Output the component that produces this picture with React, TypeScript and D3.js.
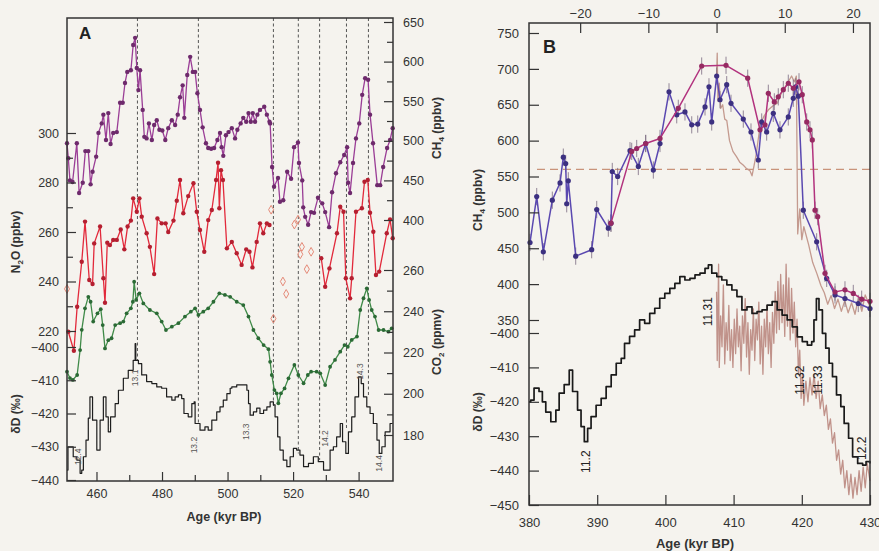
import { useEffect, useRef } from "react";
import * as d3 from "d3";

type P = [number, number];

// ---- Panel A (age kyr BP, value) ----
const ch4A: P[] = [
  [451.0, 497], [451.4, 478], [451.9, 450], [452.7, 448], [454.0, 497], [454.7, 434], [455.8, 447], [456.6, 487],
  [457.5, 487], [458.2, 445], [458.8, 461], [459.9, 480], [460.6, 510], [461.6, 522], [462.1, 533], [462.9, 501],
  [463.6, 535], [464.3, 496], [465.1, 510], [466.2, 511], [467.2, 548], [468.0, 548], [468.7, 573], [469.4, 587],
  [470.5, 589], [471.2, 621], [471.8, 630], [472.3, 592], [472.8, 564], [473.3, 589], [474.1, 539], [474.6, 505],
  [475.3, 503], [476.0, 522], [476.9, 501], [477.6, 520], [478.4, 526], [479.2, 514], [480.1, 513], [481.0, 501],
  [481.9, 516], [483.0, 526], [484.0, 520], [484.8, 533], [485.5, 555], [486.3, 570], [486.8, 529], [487.7, 583],
  [488.6, 606], [489.4, 587], [490.1, 587], [490.8, 560], [491.6, 539], [492.4, 517], [493.4, 497], [494.1, 491],
  [495.0, 490], [495.9, 491], [496.9, 501], [497.7, 510], [498.2, 492], [498.7, 481], [499.5, 507], [500.3, 511],
  [501.3, 516], [502.3, 503], [503.0, 514], [504.0, 522], [504.8, 529], [505.7, 524], [506.4, 535], [507.1, 524],
  [507.7, 535], [508.4, 524], [509.1, 533], [509.9, 539], [511.2, 543], [512.0, 533], [512.8, 524], [513.0, 522],
  [513.6, 467], [514.2, 442], [515.4, 453], [516.0, 423], [517.0, 425], [518.2, 461], [519.4, 452], [520.3, 492],
  [521.5, 498], [521.8, 472], [522.8, 450], [523.1, 416], [523.7, 404], [524.6, 394], [525.5, 410], [526.4, 409],
  [527.6, 428], [528.9, 421], [529.8, 410], [531.0, 391], [531.9, 435], [533.1, 459], [534.4, 473], [535.6, 482],
  [536.5, 492], [536.8, 447], [537.4, 434], [538.3, 472], [539.2, 503], [540.2, 522], [541.1, 558], [542.0, 579],
  [542.9, 577], [543.5, 533], [544.4, 497], [545.7, 444], [546.6, 444], [547.5, 467], [548.7, 491], [549.6, 501],
  [550.4, 516],
];

const n2oA: P[] = [
  [451.4, 219.7], [453.1, 212], [454.1, 229.8], [455.5, 248], [456.5, 264.2], [457.8, 240.6], [458.8, 239],
  [459.3, 255.4], [461.1, 262.2], [462.1, 241.3], [462.6, 231.4], [463.3, 255.7], [464.1, 254.7], [465.1, 256.8],
  [466.2, 256.8], [467.4, 261], [468.5, 253], [469.5, 262.2], [470.5, 264.6], [471.2, 273.6], [472.3, 268.2],
  [473.1, 273.6], [473.8, 266.2], [475.3, 259.5], [476.3, 254], [477.6, 243], [478.6, 265.5], [479.9, 263.5],
  [481.1, 263.5], [481.9, 260], [483.5, 264.6], [484.5, 272.6], [485.5, 281], [486.5, 267.6], [488.0, 274.5],
  [489.6, 279.7], [490.6, 268.2], [491.6, 260.8], [492.9, 252], [494.1, 264.8], [495.2, 268.9], [496.5, 281],
  [497.1, 288], [497.5, 269.6], [498.0, 285], [498.6, 281], [499.8, 253.4], [501.3, 256], [502.8, 251.4],
  [504.3, 246.7], [505.7, 253], [506.7, 252], [507.6, 245.7], [508.9, 256], [509.9, 263.5], [510.9, 259.5],
  [512.0, 263.5], [512.8, 262.8],
];
const n2oB: P[] = [
  [528.6, 249.4], [529.8, 237.9], [531.1, 245.3], [533.4, 259.5], [534.4, 270.2], [535.4, 268.2], [536.1, 241.3],
  [537.4, 233.2], [537.9, 241.3], [539.2, 268.2], [541.0, 269.6], [541.8, 280.3], [542.8, 281], [543.5, 267.8],
  [544.5, 260.1], [545.3, 242.6], [546.3, 244], [548.6, 259.5], [549.6, 265.1], [550.4, 257.5],
];
const n2oOpen: P[] = [
  [451.0, 237], [513.3, 269], [514.0, 225], [516.9, 240], [517.9, 235], [520.4, 263], [521.5, 265],
  [522.2, 251], [522.7, 254], [524.2, 245], [525.5, 252],
];

const co2A: P[] = [
  [451.0, 210.7], [451.9, 207.6], [452.8, 206.7], [454.1, 209.1], [455.0, 221.2], [455.5, 231], [456.5, 241.4],
  [457.5, 247], [458.2, 244.6], [459.0, 235], [460.3, 239], [461.3, 241], [461.9, 233.3], [462.6, 222], [463.6, 226],
  [464.6, 226.9], [465.7, 233.3], [467.2, 234.2], [468.2, 235], [469.2, 239], [470.5, 241.4], [471.1, 244.6],
  [471.5, 254.3], [472.1, 245.5], [473.1, 248.7], [474.3, 243.8], [476.3, 240.6], [478.4, 239], [479.9, 235],
  [481.2, 230.9], [483.0, 232.5], [485.0, 234.2], [487.0, 237.4], [488.8, 239.8], [490.1, 241.4], [491.1, 238.2],
  [492.6, 239.8], [494.1, 241.4], [495.7, 244.6], [497.5, 248.7], [499.2, 247.9], [500.8, 247], [502.8, 244.6],
  [504.8, 243], [506.4, 237.4], [507.9, 230.9], [509.4, 226.9], [511.0, 223.6], [512.5, 221.6], [513.0, 215.5],
  [513.5, 209.1], [514.3, 201.8], [515.0, 200.2], [515.5, 195.4], [516.3, 200.2], [517.4, 202.6], [518.6, 207.5],
  [520.4, 214], [521.6, 209.1], [523.2, 205.1], [524.5, 209.1], [525.5, 210.7], [527.2, 210.7], [528.3, 209.9],
  [529.8, 204.2], [531.3, 213.1], [532.8, 216.4], [534.4, 220.4], [535.7, 223.6], [536.7, 222.8], [537.9, 226.1],
  [539.5, 227.7], [540.5, 240.6], [541.5, 246.3], [542.5, 251.1], [543.2, 245.5], [544.0, 240.6], [545.0, 237.4],
  [546.1, 230.9], [547.6, 230.9], [549.1, 230.1], [550.1, 231.7],
];

const dDA: P[] = [
  [451.0, -437], [451.3, -430], [452.4, -430], [452.9, -433], [454.0, -434], [455.0, -438], [455.5, -437],
  [456.0, -433], [456.8, -428], [457.5, -421.4], [458.0, -415], [458.8, -422], [460.1, -431], [461.1, -422],
  [462.1, -415], [462.9, -421], [463.6, -425.5], [464.3, -421], [465.7, -417], [466.7, -413], [468.2, -409.4],
  [469.7, -407], [471.2, -404], [471.8, -399], [472.0, -404], [472.8, -405], [473.8, -408.4], [475.3, -410.4],
  [476.9, -411], [478.4, -412], [479.9, -412.4], [481.4, -415], [483.0, -416], [484.0, -415], [485.0, -414.4],
  [486.0, -415.5], [486.7, -420], [488.0, -421], [489.1, -417], [489.8, -416.5], [490.1, -423], [491.6, -425],
  [493.1, -424], [494.1, -425], [495.2, -422], [496.7, -419.5], [497.7, -418], [498.7, -416], [499.8, -414],
  [500.8, -412.4], [501.3, -412], [502.8, -411.4], [504.8, -411.4], [505.9, -413], [506.4, -417], [506.9, -420.5],
  [507.9, -419.5], [508.9, -418.4], [509.9, -420], [511.0, -419], [512.0, -418], [513.0, -416.5], [514.0, -417.4],
  [514.5, -421], [515.3, -427], [516.0, -431], [517.0, -434], [518.1, -436], [519.1, -433], [520.1, -430.5],
  [521.1, -431], [522.1, -432.5], [523.2, -436], [524.7, -435], [526.2, -433], [527.7, -434.5], [529.3, -437],
  [530.3, -437], [531.3, -431], [532.3, -430], [533.3, -427], [534.4, -423], [535.1, -428.5], [536.1, -432],
  [536.9, -425.5], [537.9, -421], [538.9, -415], [540.0, -409], [540.8, -411], [541.5, -415], [542.5, -418],
  [543.5, -420], [544.5, -423], [545.6, -428], [546.3, -432], [547.1, -430], [548.1, -425.5], [549.6, -423],
  [550.4, -423],
];

const stageAgesA = [472.5, 491.1, 514.0, 521.6, 528.1, 536.3, 543.0];
const stageEndsA = [-404, -423, -418, -432, -434, -425, -415];
const stageLabelsA: [string, number, number][] = [
  ["12.4", 454.5, -433], ["13.1", 471.8, -409.3], ["13.2", 489.9, -429.5], ["13.3", 505.6, -425.5],
  ["14.2", 529.6, -427.5], ["14.3", 540.5, -407.4], ["14.4", 546.1, -435],
];

// ---- Panel B ----
const ch4Edc: P[] = [
  [380.15, 458], [381.13, 522], [382.1, 445], [383.42, 517], [384.55, 541], [385.03, 577], [385.38, 568],
  [385.53, 512], [385.76, 544], [386.85, 439], [389.19, 448], [389.93, 504], [391.63, 478], [392.02, 485],
  [392.21, 557], [393.0, 550], [394.81, 586], [396.03, 564], [397.11, 596], [398.23, 559], [399.21, 596],
  [400.53, 668], [401.66, 636], [402.87, 640], [403.86, 622], [404.74, 623], [405.81, 647], [406.39, 675],
  [406.79, 626], [407.52, 690], [408.01, 657], [408.99, 678], [409.62, 652], [411.42, 630], [412.55, 612],
  [413.62, 573], [414.12, 626], [414.85, 612], [415.82, 638], [416.8, 615], [418.02, 633], [418.75, 659],
  [419.11, 675], [419.49, 662], [420.22, 503], [422.18, 459], [423.65, 408], [424.87, 385], [426.33, 380],
  [428.28, 373], [430, 366],
];
const ch4Second: P[] = [
  [392.02, 485], [395.06, 585], [395.79, 589], [397.11, 596], [399.21, 603], [401.89, 645], [405.32, 704],
  [408.89, 705], [412.07, 687], [413.87, 615], [414.6, 622], [415.09, 666], [415.97, 654], [416.55, 661],
  [417.29, 671], [418.02, 680], [418.75, 673], [419.59, 682], [420.07, 664], [420.72, 626], [421.2, 615],
  [421.54, 601], [421.94, 503], [422.33, 494], [423.4, 415], [424.87, 389], [426.33, 392], [427.55, 387],
  [428.78, 379], [430, 376],
];
const ch4Vostok: P[] = [
  [407.5, 690], [407.6, 722], [407.7, 655], [407.9, 680], [408.1, 645], [408.4, 650], [408.7, 630], [409.0, 628],
  [409.4, 600], [409.9, 585], [410.4, 578], [410.9, 570], [411.4, 566], [411.9, 561], [412.4, 558], [412.7, 551],
  [413.0, 565], [413.3, 580], [413.9, 622], [414.5, 635], [415.1, 643], [415.7, 648], [416.4, 652], [417.1, 668],
  [417.9, 680], [418.5, 690], [418.9, 682], [419.2, 690], [419.4, 470], [419.7, 505], [420.0, 462], [420.3, 480],
  [421.0, 455], [421.6, 430], [422.2, 415], [422.8, 398], [423.3, 388], [423.8, 372], [424.3, 384], [424.8, 366],
  [425.3, 379], [425.8, 362], [426.3, 377], [426.8, 360], [427.3, 374], [427.8, 358], [428.3, 380], [428.8, 362],
  [429.3, 385], [430, 368],
];
const dDB: P[] = [
  [380, -420], [380.25, -419.5], [380.74, -416], [381.47, -417], [381.96, -420], [382.46, -423], [383.2, -425.8],
  [383.94, -422.4], [384.42, -417.5], [385.16, -415], [385.9, -410.8], [386.39, -417], [387.12, -422.4],
  [387.63, -427.2], [388.11, -431.6], [388.6, -427.7], [389.1, -424.3], [389.84, -421], [390.58, -419],
  [391.31, -415.6], [392.05, -412.2], [392.79, -408.8], [393.52, -407.4], [394.01, -403], [394.75, -401],
  [395.49, -399.1], [396.22, -396.2], [396.96, -397.2], [397.7, -394.3], [398.44, -392.8], [399.17, -389.9],
  [399.91, -388.5], [400.65, -387], [401.39, -385.6], [402.12, -383.6], [402.86, -384.6], [403.6, -384.1],
  [404.34, -383.1], [405.07, -382.6], [405.81, -381.2], [406.3, -380.2], [406.8, -382.6], [407.54, -383.6],
  [408.27, -384.6], [409.01, -386], [409.75, -387.5], [410.49, -389.4], [411.22, -393.3], [411.96, -392.4],
  [412.7, -394.3], [413.44, -393.8], [414.17, -393.3], [414.91, -391.9], [415.65, -390.9], [416.39, -393.3],
  [417.12, -394.8], [417.86, -396.2], [418.6, -398.2], [419.34, -401.1], [420.07, -402.5], [420.81, -403.5],
  [421.45, -402.5], [421.78, -396.2], [422.14, -390], [422.52, -393.3], [423.02, -400.1], [423.51, -404.4],
  [424.0, -408.8], [424.5, -412.7], [425.09, -418], [425.72, -421.4], [426.21, -426.3], [426.86, -430.6],
  [427.45, -436], [428.19, -437.9], [428.92, -438.4], [429.42, -437.4], [430, -437.9],
];
const dDVostok: P[] = [
  [407.5, -388], [407.6, -408], [407.8, -380], [407.9, -410], [408.1, -395], [408.3, -404], [408.5, -386],
  [408.7, -409], [408.9, -397], [409.1, -405], [409.3, -392], [409.5, -408], [409.7, -399], [409.9, -410],
  [410.1, -396], [410.3, -406], [410.5, -393], [410.7, -404], [410.9, -398], [411.1, -411], [411.3, -395],
  [411.5, -403], [411.7, -390], [411.9, -407], [412.1, -397], [412.3, -412], [412.5, -399], [412.7, -405],
  [412.9, -393], [413.1, -408], [413.3, -396], [413.5, -402], [413.7, -391], [413.9, -409], [414.1, -398],
  [414.3, -412], [414.5, -396], [414.7, -404], [414.9, -392], [415.1, -406], [415.3, -397], [415.5, -410],
  [415.7, -394], [415.9, -403], [416.1, -388], [416.3, -400], [416.5, -385], [416.7, -399], [416.9, -383],
  [417.1, -397], [417.3, -386], [417.5, -401], [417.7, -380], [417.9, -398], [418.1, -384], [418.3, -402],
  [418.5, -387], [418.7, -400], [418.9, -391], [419.1, -404], [419.3, -396], [419.5, -412], [419.7, -405],
  [419.9, -419], [420.1, -412], [420.3, -421], [420.6, -414], [420.9, -420], [421.2, -413], [421.5, -418],
  [421.8, -412], [422.1, -419], [422.4, -414], [422.7, -422], [423.0, -418], [423.3, -424], [423.6, -421],
  [423.9, -428], [424.2, -425], [424.5, -432], [424.8, -429], [425.1, -437], [425.4, -434], [425.7, -441],
  [426.0, -437], [426.3, -445], [426.6, -440], [426.9, -447], [427.2, -441], [427.5, -448], [427.8, -442],
  [428.1, -447], [428.4, -440], [428.7, -446], [429.0, -439], [429.3, -445], [429.6, -438], [430.0, -443],
];
const stageLabelsB: [string, number, number][] = [
  ["11.2", 388.4, -437.4], ["11.31", 406.3, -393.8], ["11.32", 419.8, -413.7], ["11.33", 422.4, -413.7],
  ["12.2", 428.9, -433.5],
];
const ch4Threshold = 560;
const ch4Err = 12;
const topOffset = 407.5; // top axis = age - 407.5

const FONT = "'Liberation Sans', Arial, Helvetica, sans-serif";

export default function App() {
  const svgRef = useRef<SVGSVGElement>(null);

  useEffect(() => {
    document.body.style.margin = "0";
    if (!svgRef.current) return;
    const svg = d3.select(svgRef.current);
    svg.selectAll("*").remove();

    svg.append("rect").attr("width", 879).attr("height", 551).attr("fill", "#f5f3ee");

    const drawLine = (data: P[], x: any, y: any, color: string, w: number, curve: any = d3.curveLinear) => {
      svg.append("path")
        .datum(data)
        .attr("fill", "none")
        .attr("stroke", color)
        .attr("stroke-width", w)
        .attr("stroke-linejoin", "round")
        .attr("d", d3.line<P>().x(d => x(d[0])).y(d => y(d[1])).curve(curve));
    };
    const drawDots = (data: P[], x: any, y: any, color: string, r: number) => {
      svg.append("g").selectAll("circle")
        .data(data)
        .enter()
        .append("circle")
        .attr("cx", d => x(d[0]))
        .attr("cy", d => y(d[1]))
        .attr("r", r)
        .attr("fill", color);
    };
    const styleAxis = (g: any, size = 12.5) => {
      g.select(".domain").remove();
      g.selectAll("line").attr("stroke", "#333").attr("stroke-width", 1.2);
      g.selectAll("text").attr("font-size", size).attr("fill", "#333").attr("font-family", FONT);
    };
    const vLabel = (x: number, y: number, parts: [string, boolean][]) => {
      const t = svg.append("text")
        .attr("transform", `translate(${x},${y}) rotate(-90)`)
        .attr("text-anchor", "middle")
        .attr("font-family", FONT)
        .attr("font-weight", "bold")
        .attr("font-size", 12)
        .attr("fill", "#333");
      let shifted = false;
      parts.forEach(([s, sub]) => {
        const sp = t.append("tspan").text(s);
        if (sub) { sp.attr("font-size", 8).attr("dy", 3); shifted = true; }
        else if (shifted) { sp.attr("dy", -3); shifted = false; }
      });
    };

    // ================= PANEL A =================
    const xA = d3.scaleLinear().domain([451, 550.5]).range([67, 393]);
    const yN2O = d3.scaleLinear().domain([220, 300]).range([331, 133]);
    const yCH4A = d3.scaleLinear().domain([400, 650]).range([220, 22]);
    const yCO2 = d3.scaleLinear().domain([180, 260]).range([435, 270]);
    const yDA = d3.scaleLinear().domain([-440, -400]).range([480, 347]);

    // stage dashed lines
    stageAgesA.forEach((a, i) => {
      svg.append("line")
        .attr("x1", xA(a)).attr("x2", xA(a))
        .attr("y1", 18).attr("y2", yDA(stageEndsA[i]))
        .attr("stroke", "#444").attr("stroke-width", 0.9)
        .attr("stroke-dasharray", "3,2.5");
    });

    drawLine(ch4A, xA, yCH4A, "#9a3d96", 1.3);
    drawDots(ch4A, xA, yCH4A, "#6e2a6c", 2.2);
    drawLine(n2oA, xA, yN2O, "#e2293b", 1.3);
    drawLine(n2oB, xA, yN2O, "#e2293b", 1.3);
    drawDots(n2oA, xA, yN2O, "#b51f30", 2.2);
    drawDots(n2oB, xA, yN2O, "#b51f30", 2.2);
    svg.append("g").selectAll("path")
      .data(n2oOpen)
      .enter()
      .append("path")
      .attr("d", d3.symbol().type(d3.symbolDiamond).size(22))
      .attr("transform", d => `translate(${xA(d[0])},${yN2O(d[1])})`)
      .attr("fill", "none")
      .attr("stroke", "#e58a78")
      .attr("stroke-width", 1);
    drawLine(co2A, xA, yCO2, "#3f8a48", 1.3);
    drawDots(co2A, xA, yCO2, "#2b6a35", 1.9);
    drawLine(dDA, xA, yDA, "#1e1e1e", 1.2, d3.curveStepAfter);

    stageLabelsA.forEach(([s, a, v]) => {
      svg.append("text")
        .attr("transform", `translate(${xA(a) + 3},${yDA(v)}) rotate(-90)`)
        .attr("text-anchor", "middle")
        .attr("font-family", FONT)
        .attr("font-size", 8.5)
        .attr("fill", "#555")
        .text(s);
    });

    // axes A
    styleAxis(svg.append("g").attr("transform", "translate(67,0)")
      .call(d3.axisLeft(yN2O).tickValues([220, 240, 260, 280, 300]).tickSizeInner(-9).tickSizeOuter(0).tickPadding(8)));
    styleAxis(svg.append("g").attr("transform", "translate(67,0)")
      .call(d3.axisLeft(yN2O).tickValues([230, 250, 270, 290]).tickFormat(() => "").tickSizeInner(-6).tickSizeOuter(0)));
    styleAxis(svg.append("g").attr("transform", "translate(67,0)")
      .call(d3.axisLeft(yDA).tickValues([-440, -430, -420, -410, -400]).tickFormat(d3.format("d")).tickSizeInner(-9).tickSizeOuter(0).tickPadding(8)));
    styleAxis(svg.append("g").attr("transform", "translate(393,0)")
      .call(d3.axisRight(yCH4A).tickValues([400, 450, 500, 550, 600, 650]).tickSizeInner(-9).tickSizeOuter(0).tickPadding(10)));
    styleAxis(svg.append("g").attr("transform", "translate(393,0)")
      .call(d3.axisRight(yCH4A).tickValues([425, 475, 525, 575, 625]).tickFormat(() => "").tickSizeInner(-6).tickSizeOuter(0)));
    styleAxis(svg.append("g").attr("transform", "translate(393,0)")
      .call(d3.axisRight(yCO2).tickValues([180, 200, 220, 240, 260]).tickSizeInner(-9).tickSizeOuter(0).tickPadding(10)));
    styleAxis(svg.append("g").attr("transform", "translate(393,0)")
      .call(d3.axisRight(yCO2).tickValues([190, 210, 230, 250]).tickFormat(() => "").tickSizeInner(-6).tickSizeOuter(0)));
    styleAxis(svg.append("g").attr("transform", "translate(0,481)")
      .call(d3.axisBottom(xA).tickValues([460, 480, 500, 520, 540]).tickSizeInner(-9).tickSizeOuter(0).tickPadding(8)));
    styleAxis(svg.append("g").attr("transform", "translate(0,481)")
      .call(d3.axisBottom(xA).tickValues([470, 490, 510, 530]).tickFormat(() => "").tickSizeInner(-6).tickSizeOuter(0)));

    svg.append("rect").attr("x", 67).attr("y", 18).attr("width", 326).attr("height", 463)
      .attr("fill", "none").attr("stroke", "#333").attr("stroke-width", 1.5);

    svg.append("text").attr("x", 79).attr("y", 39).attr("font-family", FONT)
      .attr("font-weight", "bold").attr("font-size", 17).attr("fill", "#222").text("A");

    vLabel(20, 242, [["N", false], ["2", true], ["O (ppbv)", false]]);
    vLabel(20, 414, [["δD (‰)", false]]);
    vLabel(441, 128, [["CH", false], ["4", true], [" (ppbv)", false]]);
    vLabel(441, 342, [["CO", false], ["2", true], [" (ppmv)", false]]);
    svg.append("text").attr("x", 224).attr("y", 521).attr("text-anchor", "middle")
      .attr("font-family", FONT).attr("font-weight", "bold").attr("font-size", 12.5)
      .attr("fill", "#333").text("Age (kyr BP)");

    // ================= PANEL B =================
    const xB = d3.scaleLinear().domain([380, 430]).range([529, 870]);
    const xTop = d3.scaleLinear().domain([380 - topOffset, 430 - topOffset]).range([529, 870]);
    const yCH4B = d3.scaleLinear().domain([350, 750]).range([320, 33]);
    const yDB = d3.scaleLinear().domain([-450, -400]).range([505, 333]);

    svg.append("line")
      .attr("x1", 537).attr("x2", 870)
      .attr("y1", yCH4B(ch4Threshold)).attr("y2", yCH4B(ch4Threshold))
      .attr("stroke", "#c9937a").attr("stroke-width", 1.3).attr("stroke-dasharray", "8,5");

    drawLine(ch4Vostok, xB, yCH4B, "#c49a8f", 1.3);
    drawLine(dDVostok, xB, yDB, "#c0928a", 1.3);
    drawLine(dDB, xB, yDB, "#1a1a1a", 1.7, d3.curveStepAfter);

    const errBars = (data: P[]) => {
      svg.append("g").selectAll("line")
        .data(data)
        .enter()
        .append("line")
        .attr("x1", d => xB(d[0])).attr("x2", d => xB(d[0]))
        .attr("y1", d => yCH4B(d[1] - ch4Err)).attr("y2", d => yCH4B(d[1] + ch4Err))
        .attr("stroke", "#7a6a80").attr("stroke-width", 0.8);
    };
    errBars(ch4Edc);
    errBars(ch4Second);
    drawLine(ch4Edc, xB, yCH4B, "#5a48b0", 1.5);
    drawDots(ch4Edc, xB, yCH4B, "#3c3080", 2.6);
    drawLine(ch4Second, xB, yCH4B, "#b2327e", 1.5);
    drawDots(ch4Second, xB, yCH4B, "#962a62", 2.6);

    stageLabelsB.forEach(([s, a, v]) => {
      svg.append("text")
        .attr("transform", `translate(${xB(a) + 4},${yDB(v)}) rotate(-90)`)
        .attr("text-anchor", "middle")
        .attr("font-family", FONT)
        .attr("font-size", 12)
        .attr("fill", "#222")
        .text(s);
    });

    styleAxis(svg.append("g").attr("transform", "translate(529,0)")
      .call(d3.axisLeft(yCH4B).tickValues(d3.range(350, 751, 50)).tickSizeInner(-10).tickSizeOuter(0).tickPadding(10)), 13);
    styleAxis(svg.append("g").attr("transform", "translate(529,0)")
      .call(d3.axisLeft(yDB).tickValues(d3.range(-450, -399, 10)).tickFormat(d3.format("d")).tickSizeInner(-10).tickSizeOuter(0).tickPadding(10)), 13);
    styleAxis(svg.append("g").attr("transform", "translate(0,505)")
      .call(d3.axisBottom(xB).tickValues(d3.range(380, 431, 10)).tickSizeInner(-10).tickSizeOuter(0).tickPadding(13)), 13);
    styleAxis(svg.append("g").attr("transform", "translate(0,23)")
      .call(d3.axisTop(xTop).tickValues([-20, -10, 0, 10, 20]).tickFormat(d3.format("d")).tickSizeInner(-10).tickSizeOuter(0).tickPadding(5)), 13);

    svg.append("rect").attr("x", 529).attr("y", 23).attr("width", 341).attr("height", 482)
      .attr("fill", "none").attr("stroke", "#333").attr("stroke-width", 1.5);

    svg.append("text").attr("x", 543).attr("y", 53).attr("font-family", FONT)
      .attr("font-weight", "bold").attr("font-size", 18).attr("fill", "#222").text("B");

    vLabel(482, 200, [["CH", false], ["4", true], [" (ppbv)", false]]);
    vLabel(482, 412, [["δD (‰)", false]]);
    svg.append("text").attr("x", 695).attr("y", 548).attr("text-anchor", "middle")
      .attr("font-family", FONT).attr("font-weight", "bold").attr("font-size", 13)
      .attr("fill", "#333").text("Age (kyr BP)");
  }, []);

  return (
    <div style={{ width: 879, height: 551 }}>
      <svg ref={svgRef} width={879} height={551} style={{ display: "block" }}></svg>
    </div>
  );
}
